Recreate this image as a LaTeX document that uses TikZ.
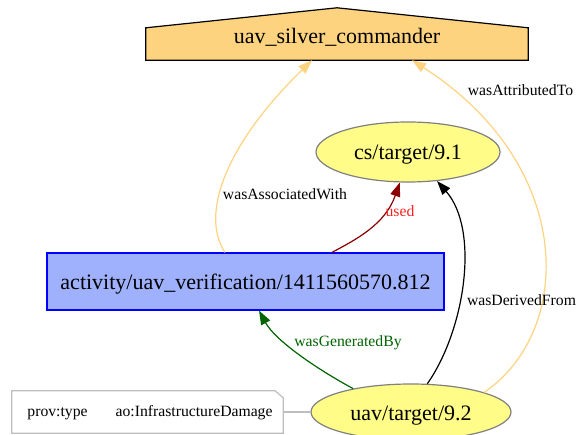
\documentclass[tikz,border=0pt]{standalone}
\usepackage{fontspec}
\setmainfont{Liberation Serif}
\usetikzlibrary{arrows.meta,shapes.geometric,backgrounds}
\definecolor{agentfill}{HTML}{FED37F}
\definecolor{actfill}{HTML}{9FB1FC}
\definecolor{actline}{HTML}{0000FF}
\definecolor{entfill}{HTML}{FFFC87}
\definecolor{entline}{HTML}{808080}
\definecolor{usedline}{HTML}{8B0000}
\definecolor{usedtext}{HTML}{FF2020}
\definecolor{genline}{HTML}{006400}
\definecolor{noteline}{HTML}{BEBEBE}
\newcommand{\mytxt}[2]{\raisebox{#1}[0pt][0pt]{#2}}
\begin{document}
\begin{tikzpicture}[x=1pt,y=-1pt,
  bigtext/.style={font=\fontsize{22}{26}\selectfont},
  entity/.style={ellipse, draw=entline, fill=entfill, line width=1.2pt, bigtext, inner sep=0pt},
  activitybox/.style={rectangle, draw=actline, fill=actfill, line width=1.2pt, bigtext, inner sep=0pt, minimum width=397pt, minimum height=57pt},
  agentbox/.style={rectangle, bigtext, inner sep=0pt, minimum width=382pt, minimum height=32pt},
  lbl/.style={font=\fontsize{15.7}{18}\selectfont, anchor=base, inner sep=0pt},
  edgeline/.style={line width=1.2pt, -{Triangle[length=14pt,width=10pt]}},
]
\useasboundingbox (0,0) rectangle (577,435);

% nodes
\node[agentbox] (agent) at (337,44) {\mytxt{0pt}{uav\_silver\_commander}};
\begin{scope}[on background layer]
\filldraw[draw=black, fill=agentfill, line width=1.2pt]
  (agent.south west) -- (agent.north west) -- ([yshift=20pt]agent.north)
  -- (agent.north east) -- (agent.south east) -- cycle;
\end{scope}

\node[entity, minimum width=184pt, minimum height=60pt] (e1) at (408,152) {\mytxt{-7.5pt}{cs/target/9.1}};
\node[activitybox] (act) at (245.5,281.5) {\mytxt{-7.5pt}{activity/uav\_verification/1411560570.812}};
\node[entity, minimum width=200pt, minimum height=56pt] (e2) at (411,412) {\mytxt{-8pt}{uav/target/9.2}};

\node[inner sep=0pt, minimum width=271pt, minimum height=42pt, font=\fontsize{15.7}{18}\selectfont] (note) at (147.5,412)
  {\mytxt{-4pt}{\hspace*{5pt}prov:type\hspace{28pt}ao:InfrastructureDamage}};
\draw[noteline, line width=1.2pt] (note.north west) -- ([xshift=-8pt]note.north east)
  -- ([yshift=-7pt]note.north east) -- (note.south east) -- (note.south west) -- cycle;

% edges
\draw[edgeline, agentfill] ([xshift=-20.5pt]act.north) .. controls (200,215) and (225,145) .. ([xshift=-25pt]agent.south);
\draw[edgeline, agentfill] (e2.15) .. controls (575,330) and (575,165) .. ([xshift=75pt]agent.south);
\draw[edgeline, usedline] ([xshift=86.5pt]act.north) .. controls (355,240) and (385,225) .. (e1.255);
\draw[edgeline, black] (e2.60) .. controls (465,330) and (480,230) .. (e1.315);
\draw[edgeline, genline] (e2.158) .. controls (315,368) and (275,340) .. ([xshift=13.5pt]act.south);
\draw[noteline, line width=1.2pt] (note.east) -- (e2.west);

% labels
\node[lbl] (l1) at (285,200) {wasAssociatedWith};
\node[lbl, text=usedtext] (l2) at (400,217) {used};
\node[lbl] (l3) at (520.5,96) {wasAttributedTo};
\node[lbl] (l4) at (521.5,305) {wasDerivedFrom};
\node[lbl, text=genline] (l5) at (348,346) {wasGeneratedBy};
\end{tikzpicture}
\end{document}
